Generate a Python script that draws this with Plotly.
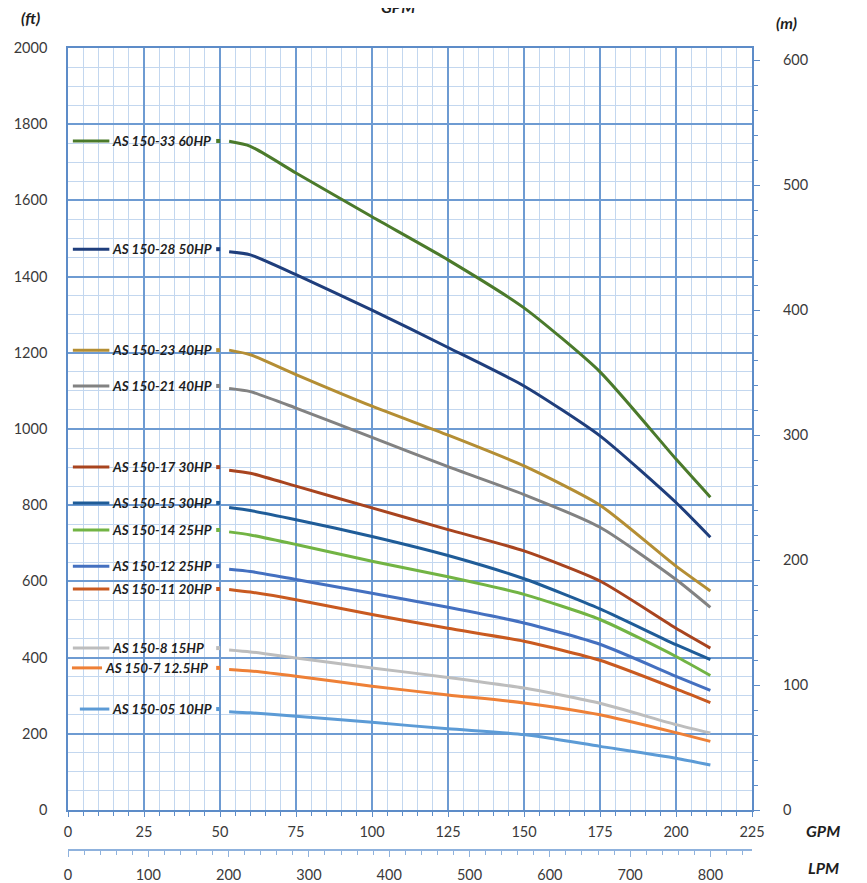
import plotly.graph_objects as go

# ---------------- data ----------------
flow_gpm = [53, 60, 75, 100, 125, 150, 175, 200, 211.3]

model_names = ["AS 150-33 60HP", "AS 150-28 50HP", "AS 150-23 40HP", "AS 150-21 40HP",
               "AS 150-17 30HP", "AS 150-15 30HP", "AS 150-14 25HP", "AS 150-12 25HP",
               "AS 150-11 20HP", "AS 150-8 15HP", "AS 150-7 12.5HP", "AS 150-05 10HP"]

head_33 = [1755, 1742, 1672, 1557, 1444, 1318, 1150, 921, 821]
head_28 = [1465, 1457, 1405, 1312, 1214, 1113, 982, 807, 716]
head_23 = [1207, 1195, 1143, 1060, 984, 903, 800, 640, 575]
head_21 = [1106, 1098, 1055, 978, 901, 828, 742, 605, 532]
head_17 = [892, 884, 850, 793, 736, 680, 601, 477, 425]
head_15 = [794, 786, 762, 718, 668, 607, 528, 434, 395]
head_14 = [730, 722, 697, 653, 612, 566, 500, 403, 353]
head_12 = [632, 626, 605, 569, 532, 491, 435, 351, 314]
head_11 = [579, 572, 552, 513, 477, 443, 393, 318, 282]
head_08 = [420, 415, 399, 373, 348, 320, 280, 224, 202]
head_07 = [369, 365, 351, 325, 302, 281, 250, 203, 180]
head_05 = [258, 255, 246, 230, 213, 198, 167, 136, 118]

heads = [head_33, head_28, head_23, head_21, head_17, head_15, head_14, head_12,
         head_11, head_08, head_07, head_05]

# label rows (ft) for the inline legend
label_heads = [1756, 1472, 1207, 1113, 900, 806, 735, 640, 580, 425, 373, 265]

colors = ["#4B7A2B", "#1F3E7C", "#B48E34", "#828282", "#A8441F", "#1F5C98",
          "#72B444", "#4470C0", "#C95A20", "#BDBDBD", "#EE8037", "#5C9BD6"]

gpm_ticks = [0, 25, 50, 75, 100, 125, 150, 175, 200, 225]
lpm_ticks = [0, 100, 200, 300, 400, 500, 600, 700, 800]
ft_ticks = [0, 200, 400, 600, 800, 1000, 1200, 1400, 1600, 1800, 2000]
m_ticks = [0, 100, 200, 300, 400, 500, 600]

GPM_TO_LPM = 3.78541
FT_TO_M = 0.3048

# ---------------- layout geometry ----------------
# the page body adds an 8px offset; geometry below is in window pixels
OFF = 8
W, H = 867, 883
plot_left, plot_right, plot_top, plot_bottom = 68, 752, 48, 810
ML = plot_left - OFF
MR = W - (plot_right - OFF)
MT = plot_top - OFF
MB = 7
PW = W - ML - MR
PH = H - MT - MB
y_dom0 = (H - MB - (plot_bottom - OFF)) / PH


def px(xp):
    return (xp - OFF - ML) / PW


def py(yp):
    return (H - MB - (yp - OFF)) / PH


fig = go.Figure()

for name, h, c in zip(model_names, heads, colors):
    fig.add_trace(go.Scatter(x=flow_gpm, y=h, mode="lines", name=name,
                             line=dict(color=c, width=3, shape="spline", smoothing=0.6),
                             showlegend=False, hoverinfo="x+y+name"))

# inline legend: short line, text and small dot
for name, ly, c in zip(model_names, label_heads, colors):
    if "12.5" in name:
        x0, x_end = 1.3, 11.2
    elif "150-05" in name:
        x0, x_end = 3.9, 13.6
    else:
        x0, x_end = 1.6, 13.6
    fig.add_trace(go.Scatter(x=[x0, x_end], y=[ly, ly], mode="lines",
                             line=dict(color=c, width=3), showlegend=False, hoverinfo="skip"))
    fig.add_trace(go.Scatter(x=[49.4], y=[ly], mode="markers",
                             marker=dict(color=c, size=4, symbol="square"),
                             showlegend=False, hoverinfo="skip"))
    fig.add_annotation(x=x_end + 0.2, y=ly, xref="x", yref="y", text=name,
                       showarrow=False, xanchor="left", yanchor="middle",
                       font=dict(family="Lato", size=13.5, color="#1e1e1e",
                                 weight="bold", style="italic"))

# invisible traces to activate secondary axes
fig.add_trace(go.Scatter(x=[0, 225 * GPM_TO_LPM], y=[None, None], xaxis="x2", yaxis="y",
                         mode="markers", showlegend=False, hoverinfo="skip"))
fig.add_trace(go.Scatter(x=[None, None], y=[0, 2000 * FT_TO_M], xaxis="x", yaxis="y2",
                         mode="markers", showlegend=False, hoverinfo="skip"))

major_grid = "#6E9BD2"
minor_grid = "#C3D7EF"
axis_line = "#5D8CC8"
tick_font = dict(family="Lato", size=14.5, color="#3a3a3a")
narrow_font = dict(family="Liberation Sans Narrow, Lato", size=14.5, color="#3a3a3a")

fig.update_layout(
    width=W, height=H,
    margin=dict(l=ML, r=MR, t=MT, b=MB, autoexpand=False),
    paper_bgcolor="white", plot_bgcolor="white",
    xaxis=dict(range=[0, 225], domain=[0, 1], tickvals=gpm_ticks,
               ticktext=[str(v) for v in gpm_ticks],
               showgrid=True, gridcolor=major_grid, gridwidth=1.5,
               minor=dict(dtick=5, showgrid=True, gridcolor=minor_grid, gridwidth=1,
                          ticks="outside", ticklen=4, tickcolor=axis_line),
               ticks="outside", ticklen=5, tickcolor=axis_line,
               showline=True, linecolor=axis_line, linewidth=1.5, mirror=True,
               zeroline=False, tickfont=narrow_font, ticklabelstandoff=3,
               anchor="y", automargin=False),
    xaxis2=dict(range=[0, 225 * GPM_TO_LPM], overlaying="x", anchor="free",
                position=py(850), tickvals=lpm_ticks,
                ticktext=[str(v) for v in lpm_ticks],
                showgrid=False, zeroline=False,
                showline=True, linecolor="#8FB2DD", linewidth=2,
                ticks="outside", ticklen=6, tickcolor="#8FB2DD",
                minor=dict(dtick=20, ticks="outside", ticklen=4, tickcolor="#8FB2DD"),
                tickfont=narrow_font, ticklabelstandoff=6, side="bottom",
                automargin=False),
    yaxis=dict(range=[0, 2000], domain=[y_dom0, 1], tickvals=ft_ticks,
               ticktext=[str(v) for v in ft_ticks],
               showgrid=True, gridcolor=major_grid, gridwidth=1.5,
               minor=dict(dtick=50, showgrid=True, gridcolor=minor_grid, gridwidth=1),
               ticks="", showline=True, linecolor=axis_line, linewidth=1.5, mirror=True,
               zeroline=False, tickfont=tick_font, ticklabelstandoff=16,
               automargin=False),
    yaxis2=dict(range=[0, 2000 * FT_TO_M], overlaying="y", side="right", anchor="x",
                tickvals=m_ticks, ticktext=[str(v) for v in m_ticks],
                showgrid=False, zeroline=False,
                ticks="outside", ticklen=7, tickcolor=axis_line,
                minor=dict(dtick=20, ticks="outside", ticklen=5, tickcolor=axis_line),
                tickfont=tick_font, ticklabelstandoff=20, automargin=False),
    showlegend=False,
)

title_font = dict(family="Lato", size=16, color="#1e1e1e", weight="bold", style="italic")
for txt, xp_, yp_ in [("(ft)", 30, 17), ("(m)", 786, 22), ("GPM", 823, 830),
                      ("LPM", 823, 867), ("GPM", 398, 7)]:
    fig.add_annotation(x=px(xp_), y=py(yp_), xref="paper", yref="paper", text=txt,
                       showarrow=False, xanchor="center", yanchor="middle",
                       font=title_font)

fig.write_html("out.html")
